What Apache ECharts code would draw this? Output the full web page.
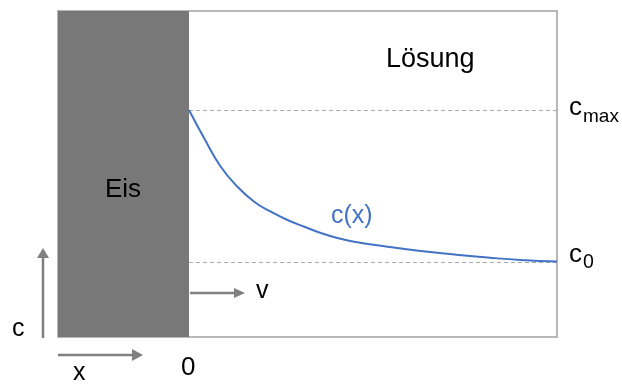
<!DOCTYPE html>
<html>
<head>
<meta charset="utf-8">
<script src="https://cdn.jsdelivr.net/npm/echarts@6/dist/echarts.min.js"></script>
<style>html,body{margin:0;padding:0;background:#fff;}#c{width:622px;height:385px;}</style>
</head>
<body>
<div id="c"></div>
<script>
// x: distance from the ice interface (arbitrary units), c: concentration (arbitrary units)
var xRange = [-131, 368];
var cRange = [0, 326];
var iceX = [-131, 0];
var cMax = 227;
var c0 = 75;
var curveX = [0, 15.2, 31.8, 48.5, 65.2, 81.8, 98.5, 115.2, 131.8, 148.5, 165.2, 198.5, 231.5, 265.5, 298.5, 331.5, 368];
var curveC = [227, 198.7, 170.3, 150.3, 135.3, 125.3, 117, 110.3, 104, 99, 95.3, 90.3, 86, 82.5, 79.5, 77, 75.5];

var font = '"Liberation Sans", Arial, Helvetica, sans-serif';
var chart = echarts.init(document.getElementById('c'), null, {renderer: 'canvas'});
var curve = curveX.map(function (x, i) { return [x, curveC[i]]; });

function label(text, x, y, size, color) {
  return {type: 'text', x: x, y: y, z: 10, style: {text: text, font: size + 'px ' + font, fill: color || '#000', textAlign: 'left', textVerticalAlign: 'middle'}};
}

chart.setOption({
  animation: false,
  grid: {left: 58, right: 65, top: 11, bottom: 48, show: true, borderColor: '#b8b8b8', borderWidth: 2, backgroundColor: '#fff', z: 0},
  xAxis: {type: 'value', min: xRange[0], max: xRange[1], show: false},
  yAxis: {type: 'value', min: cRange[0], max: cRange[1], show: false},
  series: [{
    type: 'line',
    data: curve,
    smooth: 0.5,
    showSymbol: false,
    lineStyle: {color: '#4472c4', width: 2},
    z: 5,
    markArea: {
      silent: true,
      itemStyle: {color: '#787878', opacity: 1},
      data: [[{xAxis: iceX[0]}, {xAxis: iceX[1]}]]
    },
    markLine: {
      silent: true,
      symbol: 'none',
      label: {show: false},
      lineStyle: {color: '#aaaaaa', type: [4, 3], width: 1},
      data: [
        [{coord: [0, cMax]}, {coord: [xRange[1], cMax]}],
        [{coord: [0, c0]}, {coord: [xRange[1], c0]}]
      ]
    }
  }],
  graphic: [
    label('Lösung', 386, 60, 27),
    label('Eis', 105, 190, 26),
    label('c(x)', 331, 216, 25, '#4472c4'),
    label('c', 569, 108, 26),
    label('max', 583, 117, 19),
    label('c', 569, 255, 26),
    label('0', 583, 263, 19.5),
    label('0', 181, 368, 26),
    label('x', 73, 373, 25),
    label('c', 12, 329, 25),
    label('v', 256, 291, 25),
    // arrows
    {type: 'line', shape: {x1: 43, y1: 338, x2: 43, y2: 256}, style: {stroke: '#808080', lineWidth: 2.5}},
    {type: 'polygon', shape: {points: [[37, 258], [49, 258], [43, 248]]}, style: {fill: '#808080'}},
    {type: 'line', shape: {x1: 58, y1: 355, x2: 134, y2: 355}, style: {stroke: '#808080', lineWidth: 2.5}},
    {type: 'polygon', shape: {points: [[132, 349], [132, 361], [143, 355]]}, style: {fill: '#808080'}},
    {type: 'line', shape: {x1: 190, y1: 293, x2: 236, y2: 293}, style: {stroke: '#808080', lineWidth: 2.5}},
    {type: 'polygon', shape: {points: [[234, 288], [234, 298], [245, 293]]}, style: {fill: '#808080'}}
  ]
});
</script>
</body>
</html>
